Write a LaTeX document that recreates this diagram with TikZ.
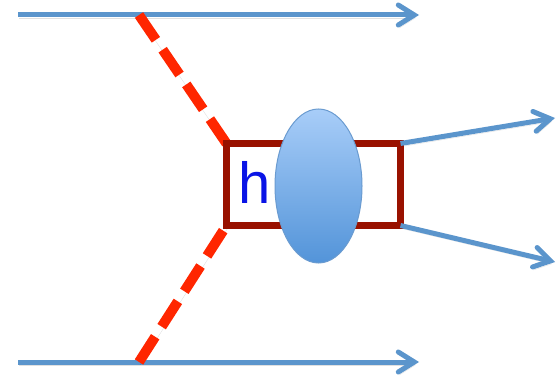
\documentclass[tikz,border=0pt]{standalone}
\usepackage{fontspec}
\setmainfont{Liberation Sans}
\usetikzlibrary{arrows.meta,shapes.geometric}
\definecolor{lineblue}{HTML}{5B95CC}
\definecolor{dashred}{HTML}{FF2600}
\definecolor{boxred}{HTML}{991100}
\definecolor{blobtop}{HTML}{A8CDF8}
\definecolor{blobbot}{HTML}{5394D9}
\definecolor{blobedge}{HTML}{6A9BD0}
\definecolor{hblue}{HTML}{0A14E6}
\tikzset{
  softshadow/.style={preaction={draw=black, draw opacity=0.12,
    transform canvas={shift={(1pt,-3pt)}}}},
  beam/.style={draw=lineblue, line width=5pt, softshadow,
    -{Straight Barb[length=16pt,width=20pt,line width=5pt,line cap=round]}},
  scalar/.style={draw=dashred, line width=10pt, dash pattern=on 30pt off 12pt, softshadow},
  vertexbox/.style={draw=boxred, line width=7pt, fill=white, rectangle,
    minimum width=167pt, minimum height=75pt, inner sep=0pt},
  blob/.style={draw=blobedge, line width=1pt, ellipse,
    top color=blobtop, bottom color=blobbot,
    minimum width=87pt, minimum height=154pt, inner sep=0pt},
}
\begin{document}
\begin{tikzpicture}[x=1pt, y=-1pt]
  \useasboundingbox (0,0) rectangle (559,382);
  % incoming beams
  \coordinate (tl) at (18,15);
  \coordinate (tr) at (419,15);
  \coordinate (bl) at (18,362);
  \coordinate (br) at (419,362);
  \coordinate (tv) at (139,15);
  \coordinate (bv) at (139,362);
  \draw[beam] (tl) -- (tr);
  \draw[beam] (bl) -- (br);
  % production vertex box and blob
  \node[vertexbox] (box) at (313.5,184.5) {};
  \draw[scalar] (tv) -- (box.north west);
  \draw[scalar] (bv) -- (box.south west);
  \draw[boxred, line width=7pt, fill=white] (box.north west) rectangle (box.south east);
  \node[text=hblue, font=\fontsize{58}{58}\selectfont, anchor=base] (h) at (255,204) {h};
  \node[blob] (blob) at (318.5,186) {};
  % outgoing products
  \coordinate (o1) at (555,118);
  \coordinate (o2) at (555,262);
  \draw[beam] (box.north east) -- (o1);
  \draw[beam] (box.south east) -- (o2);
\end{tikzpicture}
\end{document}
